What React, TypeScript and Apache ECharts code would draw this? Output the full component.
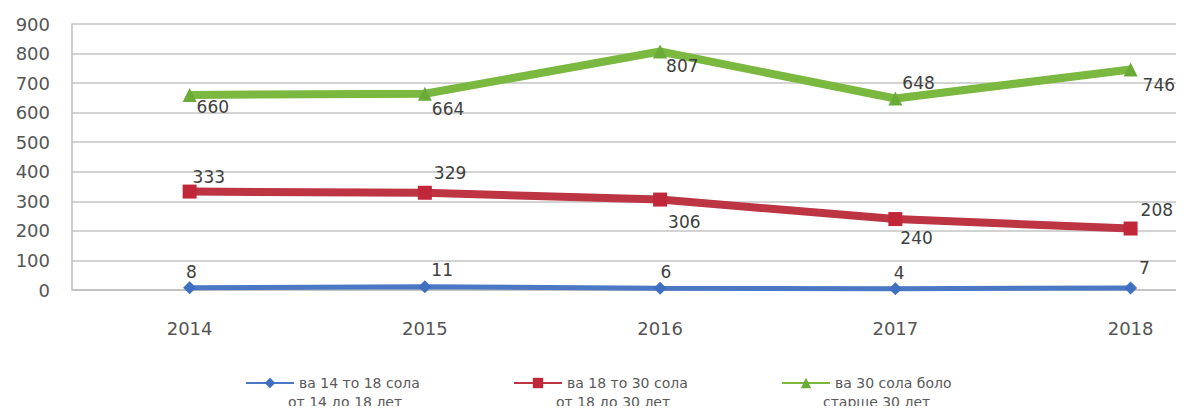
import React, { useEffect, useRef } from "react";
import * as echarts from "echarts";

const years = [2014, 2015, 2016, 2017, 2018];
const youth = [8, 11, 6, 4, 7];
const young = [333, 329, 306, 240, 208];
const adult = [660, 664, 807, 648, 746];
const names = ["ва 14 то 18 сола", "ва 18 то 30 сола", "ва 30 сола боло"];
const subNames = ["от 14 до 18 лет", "от 18 до 30 лет", "старше 30 лет"];

// label offsets [dx, dy] relative to the right edge of each marker
const youthOff = [[-10, -16], [0, -17], [-6, -16], [-8, -16], [2, -20]];
const youngOff = [[-4, -15], [2, -20], [1, 22], [-2, 19], [3, -19]];
const adultOff = [[0, 12], [0, 15], [-1, 15], [0, -15], [5, 15]];

const colors = ["#4a78c4", "#bd3443", "#7ab840"];

export default function App() {
  const ref = useRef<HTMLDivElement>(null);
  useEffect(() => {
    if (!ref.current) return;
    const chart = echarts.init(ref.current, undefined, { renderer: "svg" });
    const labelStyle = {
      show: true,
      position: "right",
      distance: 0,
      fontFamily: "DejaVu Sans",
      fontSize: 17,
      color: "#404040",
      formatter: (p: any) => String(p.value[1]),
    };
    const mk = (vals: number[], offs: number[][]) =>
      vals.map((v, i) => ({ value: [years[i], v], label: { offset: offs[i] } }));
    const legendBase = {
      top: 371,
      itemWidth: 48,
      itemHeight: 13,
      textStyle: { fontFamily: "DejaVu Sans", fontSize: 14, color: "#595959" },
    };
    chart.setOption({
      animation: false,
      backgroundColor: "#ffffff",
      grid: { left: 72, top: 24, height: 266, right: 0, containLabel: false },
      xAxis: {
        type: "value",
        min: 2013.5,
        max: 2018.227,
        splitLine: { show: false },
        axisLine: { show: true, lineStyle: { color: "#bfbfbf", width: 1.5 } },
        axisTick: { show: false },
        axisLabel: {
          customValues: years,
          fontFamily: "DejaVu Sans",
          fontSize: 18,
          color: "#555555",
          margin: 29,
          formatter: (v: number) => String(v),
        },
      },
      yAxis: {
        type: "value",
        min: 0,
        max: 900,
        interval: 100,
        axisLine: { show: true, lineStyle: { color: "#bfbfbf", width: 1.5 } },
        axisTick: { show: false },
        splitLine: { lineStyle: { color: "#c4c4c4", width: 1.5 } },
        axisLabel: {
          fontFamily: "DejaVu Sans",
          fontSize: 18,
          color: "#555555",
          margin: 22,
        },
      },
      legend: [
        { ...legendBase, left: 240, data: [names[0]] },
        { ...legendBase, left: 508, data: [names[1]] },
        { ...legendBase, left: 776, data: [names[2]] },
      ],
      graphic: subNames.map((t, i) => ({
        type: "text",
        left: [288, 556, 823][i],
        top: 395,
        style: {
          text: t,
          fontFamily: "DejaVu Sans",
          fontSize: 14,
          fill: "#595959",
        },
      })),
      series: [
        {
          name: names[0],
          type: "line",
          data: mk(youth, youthOff),
          color: colors[0],
          lineStyle: { width: 5, color: colors[0] },
          symbol: "diamond",
          symbolSize: 13,
          itemStyle: { color: "#3f6fc0" },
          label: labelStyle,
          z: 3,
        },
        {
          name: names[1],
          type: "line",
          data: mk(young, youngOff),
          color: colors[1],
          lineStyle: { width: 8, color: colors[1] },
          symbol: "rect",
          symbolSize: 14,
          itemStyle: { color: "#c0283a" },
          label: labelStyle,
          z: 2,
        },
        {
          name: names[2],
          type: "line",
          data: mk(adult, adultOff),
          color: colors[2],
          lineStyle: { width: 8, color: colors[2] },
          symbol: "triangle",
          symbolSize: 14,
          itemStyle: { color: "#6aab38" },
          label: labelStyle,
          z: 2,
        },
      ],
    });
    return () => chart.dispose();
  }, []);
  return <div ref={ref} style={{ width: 1184, height: 414, margin: -8 }} />;
}
